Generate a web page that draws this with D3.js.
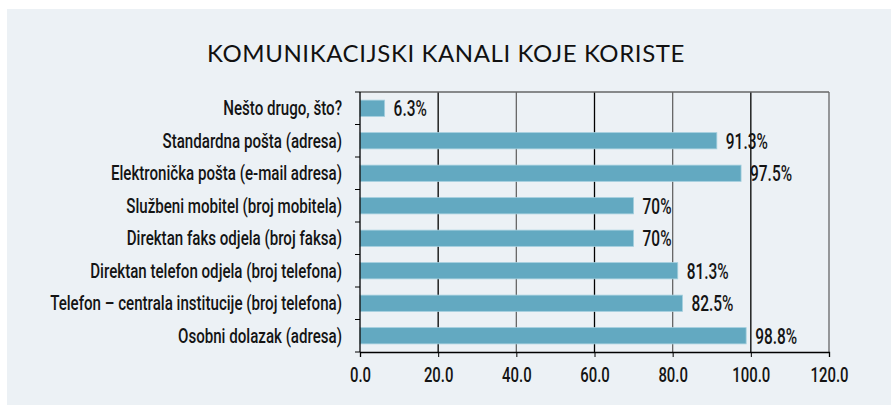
<!DOCTYPE html>
<html>
<head>
<meta charset="utf-8">
<script src="https://cdn.jsdelivr.net/npm/d3@7"></script>
<style>
  body { margin: 0; background: #fff; }
  .lbl { font-family: Roboto, sans-serif; font-weight: 500; fill: #141414; }
</style>
</head>
<body>
<svg id="chart" width="891" height="405"></svg>
<script>
const title = 'KOMUNIKACIJSKI KANALI KOJE KORISTE';
const categories = [
    'Nešto drugo, što?',
    'Standardna pošta (adresa)',
    'Elektronička pošta (e-mail adresa)',
    'Službeni mobitel (broj mobitela)',
    'Direktan faks odjela (broj faksa)',
    'Direktan telefon odjela (broj telefona)',
    'Telefon – centrala institucije (broj telefona)',
    'Osobni dolazak (adresa)'
];
const values = [6.3, 91.3, 97.5, 70, 70, 81.3, 82.5, 98.8];
const valueLabels = ['6.3%', '91.3%', '97.5%', '70%', '70%', '81.3%', '82.5%', '98.8%'];
const xTicks = [0, 20, 40, 60, 80, 100, 120];

const svg = d3.select('#chart');
const plotLeft = 360, plotRight = 829, plotTop = 92, plotBottom = 352;

// the original uses a condensed face; squeeze a normal one horizontally
function narrowFactor(text, size, target) {
    const t = svg.append('text').attr('class', 'lbl').style('font-size', size + 'px').text(text);
    const w = t.node().getComputedTextLength();
    t.remove();
    return target / w;
}

svg.append('rect')
    .attr('x', 7).attr('y', 9)
    .attr('width', 891 - 7).attr('height', 405 - 9)
    .attr('fill', '#ecf1f5');

svg.append('text')
    .attr('x', 446).attr('y', 62)
    .attr('text-anchor', 'middle')
    .style('font-family', 'Lato, sans-serif')
    .style('font-size', '24px')
    .style('letter-spacing', '0.6px')
    .style('fill', '#111')
    .text(title);

const x = d3.scaleLinear().domain([0, 120]).range([plotLeft, plotRight]);
const y = d3.scaleBand().domain(categories).range([plotTop, plotBottom]).paddingInner(0.5).paddingOuter(0.25);

// gridlines, alternating black / grey like the original
svg.append('g').selectAll('line')
    .data(xTicks.slice(1))
    .join('line')
    .attr('x1', d => x(d)).attr('x2', d => x(d))
    .attr('y1', plotTop).attr('y2', plotBottom)
    .attr('stroke', (d, i) => i % 2 === 0 ? '#000' : '#666')
    .attr('stroke-width', 1.3);

svg.append('line')
    .attr('x1', plotLeft).attr('x2', plotRight)
    .attr('y1', plotTop).attr('y2', plotTop)
    .attr('stroke', '#666').attr('stroke-width', 1.3);

svg.append('g').selectAll('rect')
    .data(values)
    .join('rect')
    .attr('x', x(0))
    .attr('y', (d, i) => y(categories[i]))
    .attr('width', d => x(d) - x(0))
    .attr('height', y.bandwidth())
    .attr('fill', '#63a9c1')
    .attr('stroke', '#a4cfde')
    .attr('stroke-width', 0.8);

const valSize = 22;
const valScale = narrowFactor('98.8%', valSize, 42);
svg.append('g').selectAll('text')
    .data(values)
    .join('text')
    .attr('class', 'lbl')
    .style('font-size', valSize + 'px')
    .attr('transform', (d, i) => `translate(${x(d) + 9},${y(categories[i]) + y.bandwidth() / 2 + 8}) scale(${valScale},1)`)
    .text((d, i) => valueLabels[i]);

// left axis: ticks between bands
const yAxis = svg.append('g');
yAxis.append('line')
    .attr('x1', plotLeft).attr('x2', plotLeft)
    .attr('y1', plotTop).attr('y2', plotBottom)
    .attr('stroke', '#000').attr('stroke-width', 1.3);
const step = (plotBottom - plotTop) / categories.length;
yAxis.selectAll('line.tk')
    .data(d3.range(categories.length + 1))
    .join('line')
    .attr('class', 'tk')
    .attr('x1', plotLeft - 5).attr('x2', plotLeft)
    .attr('y1', d => plotTop + d * step).attr('y2', d => plotTop + d * step)
    .attr('stroke', '#000').attr('stroke-width', 1);
const catSize = 21;
const catScale = narrowFactor(categories[6], catSize, 292);
yAxis.selectAll('text')
    .data(categories)
    .join('text')
    .attr('class', 'lbl')
    .style('font-size', catSize + 'px')
    .attr('text-anchor', 'end')
    .attr('transform', d => `translate(${plotLeft - 18},${y(d) + y.bandwidth() / 2 + 7}) scale(${catScale},1)`)
    .text(d => d);

const tickSize = 19.5;
const tickScale = narrowFactor('120.0', tickSize, 38);
const xAxis = svg.append('g')
    .attr('transform', `translate(0,${plotBottom})`)
    .call(d3.axisBottom(x).tickValues(xTicks).tickFormat(d3.format('.1f')).tickSize(5));
xAxis.select('.domain').attr('stroke', '#000').attr('stroke-width', 1.3);
xAxis.selectAll('.tick line').attr('stroke', '#000');
xAxis.selectAll('.tick text')
    .attr('class', 'lbl')
    .attr('dy', null)
    .attr('y', null)
    .attr('fill', null)
    .style('font-size', tickSize + 'px')
    .attr('transform', `translate(0,30) scale(${tickScale},1)`);
</script>
</body>
</html>
